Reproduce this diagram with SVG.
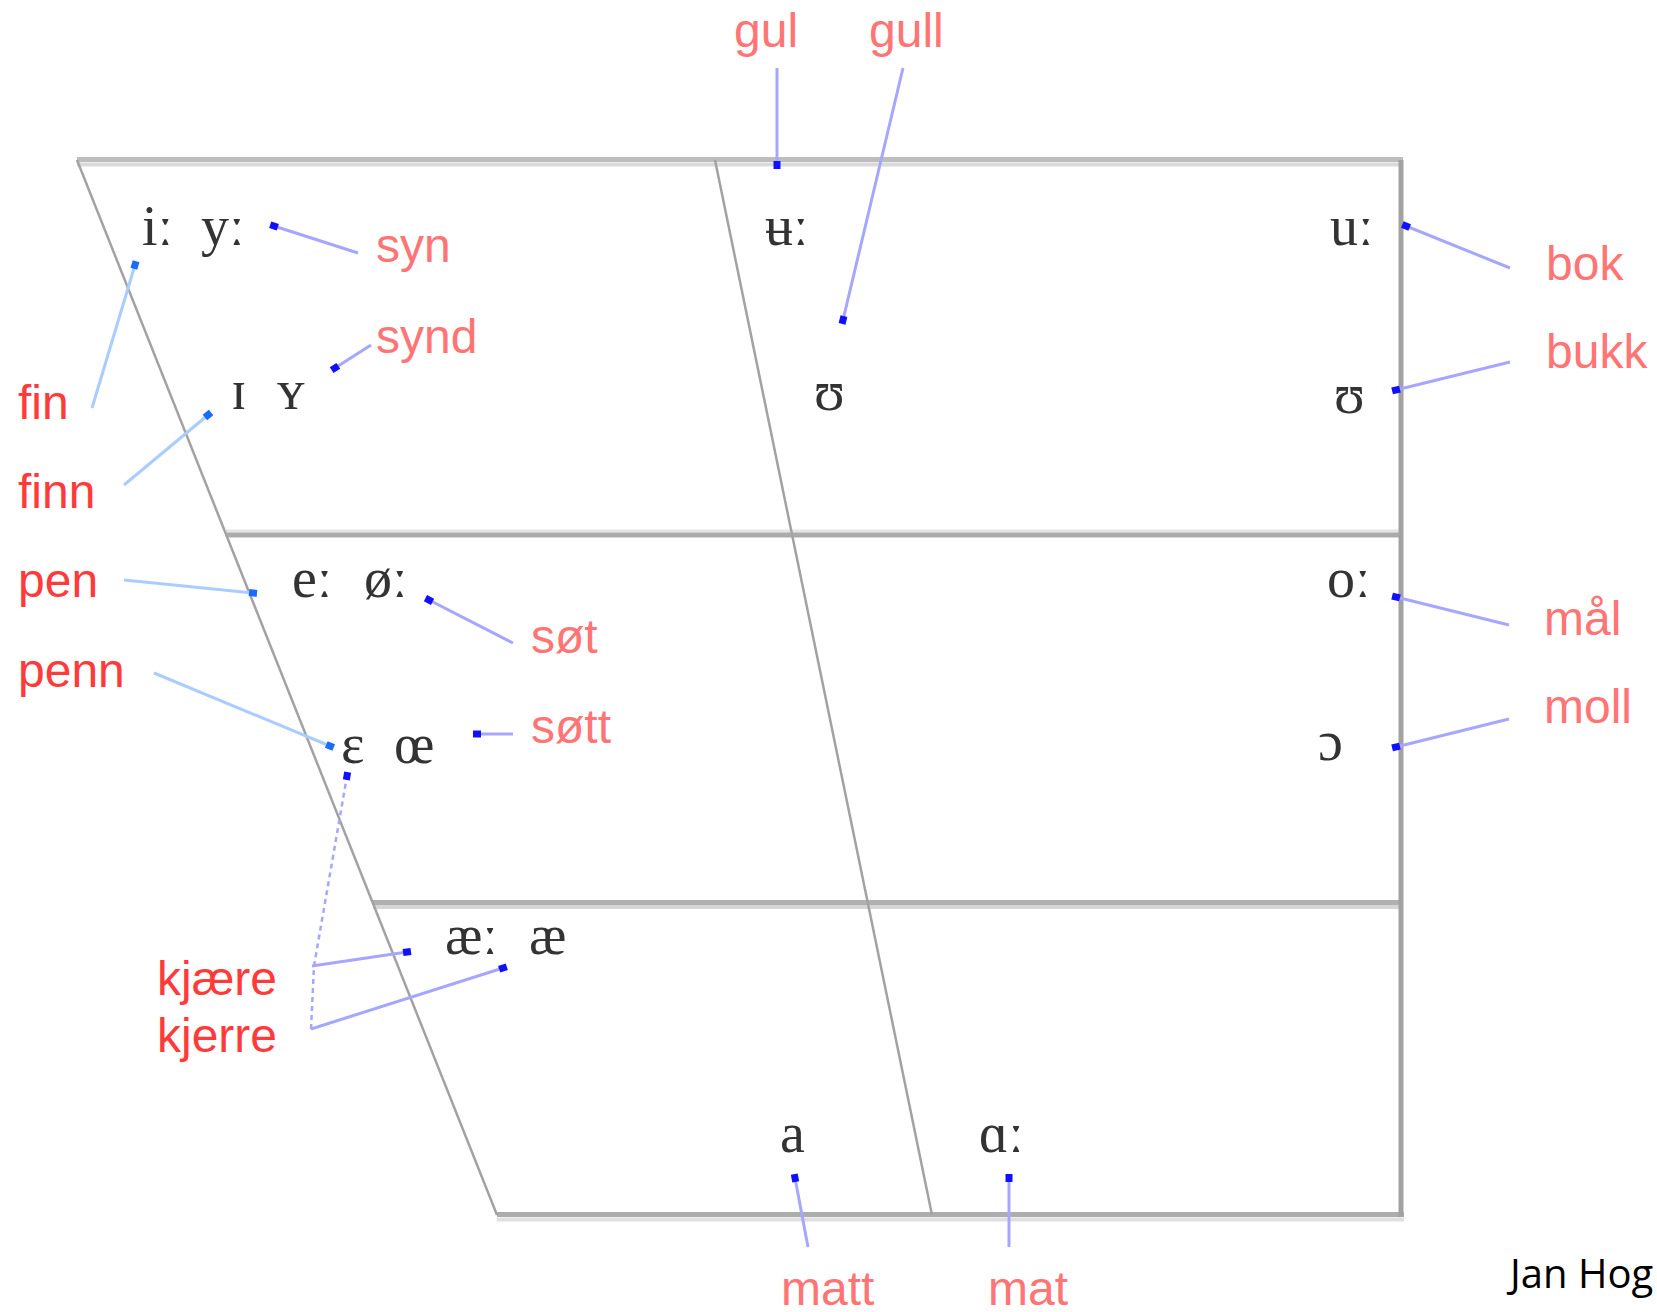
<svg xmlns="http://www.w3.org/2000/svg" width="1657" height="1312" viewBox="0 0 1657 1312">
<defs>
<style>
.frame{stroke:#b4b4b4;fill:none;stroke-linecap:square}
.slant{stroke:#a2a2a2;stroke-width:2.5;fill:none}
.ipa{font-family:"Liberation Serif","DejaVu Serif",serif;font-size:56px;fill:#333333}
.lab{font-family:"Liberation Sans",Arial,sans-serif;font-size:48px;fill:#ff7474}
.labr{font-family:"Liberation Sans",Arial,sans-serif;font-size:48px;fill:#ff3a3a}
.cl{stroke:#a6a6ff;stroke-width:3;fill:none;marker-end:url(#dotL)}
.cb{stroke:#a9cdff;stroke-width:3;fill:none;marker-end:url(#dotB)}
.dash{stroke:#a6a6ff;stroke-width:2.5;fill:none;stroke-dasharray:5 4;marker-end:url(#dotL)}
</style>
<marker id="dotL" markerUnits="userSpaceOnUse" markerWidth="10" markerHeight="10" refX="5" refY="5" orient="auto"><rect x="1" y="1.5" width="8" height="7" fill="#1010ff"/></marker>
<marker id="dotB" markerUnits="userSpaceOnUse" markerWidth="10" markerHeight="10" refX="5" refY="5" orient="auto"><rect x="1" y="1.5" width="8" height="7" fill="#1a6cff"/></marker>
</defs>
<rect width="1657" height="1312" fill="#ffffff"/>
<g id="chart">
<line x1="77" y1="159.5" x2="1403" y2="159.5" stroke="#bdbdbd" stroke-width="5"/>
<line x1="77" y1="164.5" x2="1403" y2="164.5" stroke="#dadada" stroke-width="4"/>
<line x1="226" y1="531" x2="1401" y2="531" stroke="#e4e4e4" stroke-width="3"/>
<line x1="226" y1="535" x2="1401" y2="535" stroke="#ababab" stroke-width="5"/>
<line x1="373" y1="902.5" x2="1401" y2="902.5" stroke="#b0b0b0" stroke-width="5"/>
<line x1="373" y1="907" x2="1401" y2="907" stroke="#d6d6d6" stroke-width="4"/>
<line x1="497" y1="1214.5" x2="1404" y2="1214.5" stroke="#adadad" stroke-width="5"/>
<line x1="497" y1="1219.5" x2="1404" y2="1219.5" stroke="#e0e0e0" stroke-width="4"/>
<line x1="1401" y1="160" x2="1401" y2="1217" stroke="#a2a2a2" stroke-width="5"/>
<line class="slant" x1="77" y1="160" x2="497" y2="1215"/>
<line class="slant" x1="715" y1="160" x2="932" y2="1215"/>
</g>
<g id="connectors">
<line class="cl" x1="358" y1="253" x2="274" y2="226"/>
<line class="cl" x1="371" y1="345" x2="335" y2="368"/>
<line class="cl" x1="777" y1="68" x2="777" y2="165"/>
<line class="cl" x1="903" y1="68" x2="843" y2="320"/>
<line class="cl" x1="1510" y1="268" x2="1406" y2="226"/>
<line class="cl" x1="1510" y1="362" x2="1396" y2="390"/>
<line class="cl" x1="513" y1="643" x2="429" y2="600"/>
<line class="cl" x1="513" y1="734" x2="477" y2="734"/>
<line class="cl" x1="1509" y1="625" x2="1396" y2="597"/>
<line class="cl" x1="1509" y1="719" x2="1396" y2="747"/>
<line class="cl" x1="312" y1="966" x2="407" y2="952"/>
<line class="cl" x1="311" y1="1029" x2="503" y2="968"/>
<polyline class="dash" points="311,1029 314,966 347,776"/>
<line class="cl" x1="808" y1="1247" x2="795" y2="1178"/>
<line class="cl" x1="1009" y1="1247" x2="1009" y2="1178"/>
<line class="cb" x1="92" y1="408" x2="135" y2="265"/>
<line class="cb" x1="124" y1="485" x2="208" y2="415"/>
<line class="cb" x1="124" y1="580" x2="253" y2="593"/>
<line class="cb" x1="154" y1="673" x2="330" y2="746"/>
</g>
<g id="vowels">
<g id="v-i-long"><text class="ipa" x="142" y="245">iː</text></g>
<g id="v-y-long"><text class="ipa" x="201" y="245">yː</text></g>
<g id="v-I"><text class="ipa" x="231" y="409">ɪ</text></g>
<g id="v-Y"><text class="ipa" x="277" y="409">ʏ</text></g>
<g id="v-u-bar-long"><text class="ipa" x="765" y="245">ʉː</text></g>
<g id="v-u-long"><text class="ipa" x="1330" y="245">uː</text></g>
<g id="v-U-central"><text class="ipa" x="814" y="410">ʊ</text></g>
<g id="v-U-back"><text class="ipa" x="1334" y="413">ʊ</text></g>
<g id="v-e-long"><text class="ipa" x="292" y="597">eː</text></g>
<g id="v-oe-long"><text class="ipa" x="364" y="597">øː</text></g>
<g id="v-E"><text class="ipa" x="341" y="763">ɛ</text></g>
<g id="v-OE"><text class="ipa" x="394" y="763">œ</text></g>
<g id="v-o-long"><text class="ipa" x="1327" y="597">oː</text></g>
<g id="v-O"><text class="ipa" x="1318" y="760">ɔ</text></g>
<g id="v-ae-long"><text class="ipa" x="445" y="954">æː</text></g>
<g id="v-ae"><text class="ipa" x="529" y="954">æ</text></g>
<g id="v-a"><text class="ipa" x="780" y="1152">a</text></g>
<g id="v-A-long"><text class="ipa" x="979" y="1152">ɑː</text></g>
</g>
<g id="labels">
<g id="l-gul"><text class="lab" x="734" y="47">gul</text></g>
<g id="l-gull"><text class="lab" x="869" y="47">gull</text></g>
<g id="l-syn"><text class="lab" x="376" y="262">syn</text></g>
<g id="l-synd"><text class="lab" x="376" y="353">synd</text></g>
<g id="l-fin"><text class="labr" x="18" y="419">fin</text></g>
<g id="l-finn"><text class="labr" x="18" y="508">finn</text></g>
<g id="l-bok"><text class="lab" x="1546" y="280">bok</text></g>
<g id="l-bukk"><text class="lab" x="1546" y="368">bukk</text></g>
<g id="l-pen"><text class="labr" x="18" y="597">pen</text></g>
<g id="l-penn"><text class="labr" x="18" y="687">penn</text></g>
<g id="l-sot"><text class="lab" x="531" y="653">søt</text></g>
<g id="l-sott"><text class="lab" x="531" y="743">søtt</text></g>
<g id="l-mal"><text class="lab" x="1544" y="635">mål</text></g>
<g id="l-moll"><text class="lab" x="1544" y="723">moll</text></g>
<g id="l-kjaere"><text class="labr" x="157" y="995">kjære</text></g>
<g id="l-kjerre"><text class="labr" x="157" y="1052">kjerre</text></g>
<g id="l-matt"><text class="lab" x="781" y="1305">matt</text></g>
<g id="l-mat"><text class="lab" x="988" y="1305">mat</text></g>
</g>
<g id="credit"><text x="1510" y="1288" font-family="'Open Sans','Noto Sans',sans-serif" font-size="40" fill="#000000">Jan Hog</text></g>
</svg>
